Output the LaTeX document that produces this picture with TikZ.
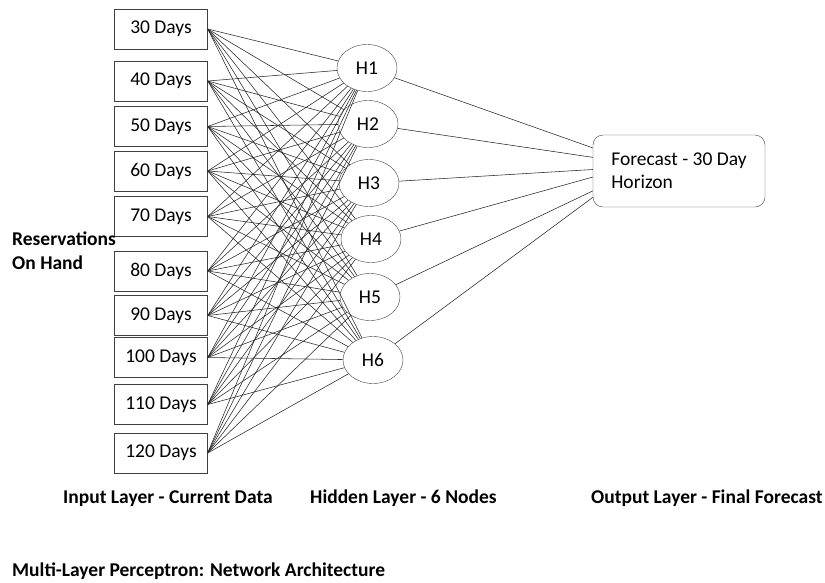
\documentclass[tikz,border=0pt]{standalone}
\usepackage{fontspec}
\setmainfont{Carlito}
\usetikzlibrary{shapes.geometric}

\begin{document}
\begin{tikzpicture}[x=1pt, y=-1pt,
    inbox/.style={draw=black!75, minimum width=93pt, minimum height=40pt, inner sep=0pt, font=\fontsize{19.5}{23}\selectfont},
    hnode/.style={ellipse, draw=black!75, minimum width=60pt, minimum height=47pt, inner sep=0pt, font=\fontsize{19.5}{23}\selectfont},
    outbox/.style={draw=black!75, rounded corners=10pt, minimum width=172pt, minimum height=72pt, align=left, font=\fontsize{19.5}{23}\selectfont},
    link/.style={black!85, line width=0.55pt},
    caption/.style={anchor=base west, inner sep=0pt, font=\fontsize{19.5}{24}\selectfont\bfseries}]
    \useasboundingbox (0,0) rectangle (825,582);
    % input layer
    \foreach \n/\y in {30/29,40/81,50/126.5,60/171,70/216.5,80/271,90/315.5,100/357.5,110/404.5,120/453}
      \node[inbox] (in\n) at (161,\y) {\n\ Days};
    % hidden layer
    \foreach \i/\x/\y in {1/367/68,2/368/124,3/369/183,4/371/239,5/370/297,6/373/360}
      \node[hnode] (h\i) at (\x,\y) {H\i};
    \node[outbox] (out) at (679,171) {Forecast - 30 Day\\Horizon};
    \foreach \n in {30,40,...,120}
      \foreach \i in {1,...,6} \draw[link] (in\n.east) -- (h\i);
    \foreach \i/\a in {1/165,2/171,3/179,4/184,5/193,6/197} \draw[link] (h\i) -- (out.\a);
    % labels
    \node[caption, align=left, anchor=north west] (res) at (12,232) {Reservations\\On Hand};
    \node[caption] (lin) at (63,503) {Input Layer - Current Data};
    \node[caption] (lhid) at (310,503) {Hidden Layer - 6 Nodes};
    \node[caption] (lout) at (591,503) {Output Layer - Final Forecast};
    \node[caption] (title) at (12,576) {Multi-Layer Perceptron: Network Architecture};
\end{tikzpicture}
\end{document}
